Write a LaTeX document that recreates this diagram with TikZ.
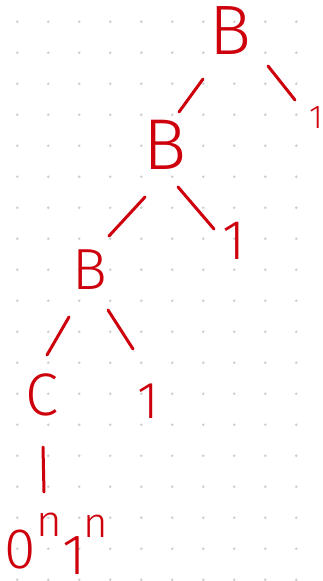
\documentclass[tikz,border=0pt]{standalone}
\usepackage{fontspec}
\setmainfont{Fira Sans}[UprightFont=* Light]
\usetikzlibrary{calc}
\definecolor{ink}{RGB}{206,0,12}
\definecolor{dotc}{RGB}{205,205,205}
\begin{document}
\begin{tikzpicture}[x=1pt,y=-1pt,
  hw/.style={text=ink, inner sep=0pt, outer sep=0pt},
  edge/.style={draw=ink, line width=3pt, line cap=round}]
\useasboundingbox (0,0) rectangle (322,581);
\fill[white] (0,0) rectangle (322,581);
\foreach \i in {0,...,9}{\foreach \j in {0,...,18}{\fill[dotc] ({17.3+31*\i},{21.7+31*\j}) circle[radius=1.4pt];}}
% nodes
\node[hw, font=\fontsize{70}{70}\selectfont] (B1) at (230,31) {B};
\node[hw, font=\fontsize{72}{72}\selectfont] (B2) at (165,145) {B};
\node[hw, font=\fontsize{58}{58}\selectfont] (B3) at (90,270) {B};
\node[hw, font=\fontsize{60}{60}\selectfont] (C) at (42,395) {C};
\node[hw, font=\fontsize{33}{33}\selectfont] (one1) at (316,118) {1};
\node[hw, font=\fontsize{56}{56}\selectfont] (one2) at (234,241) {1};
\node[hw, font=\fontsize{52}{52}\selectfont] (one3) at (148,401) {1};
\node[hw, anchor=base west, font=\fontsize{57}{57}\selectfont] (zn) at (5,568) {0\raisebox{32pt}{\fontsize{44}{44}\selectfont n}};
\node[hw, anchor=base west, font=\fontsize{57}{57}\selectfont] (on) at (62,574) {1\kern-2pt\raisebox{37pt}{\fontsize{42}{42}\selectfont n}};
% connectors
\draw[edge] ($(B1)+(-27,48)$) -- ($(B2)+(14,-33)$);
\draw[edge] ($(B1)+(38,35)$) -- ($(one1)+(-21,-18)$);
\draw[edge] ($(B2)+(-20,52)$) -- ($(B3)+(19,-34)$);
\draw[edge] ($(B2)+(13,42)$) -- ($(one2)+(-20,-12)$);
\draw[edge] ($(B3)+(-21,47)$) -- ($(C)+(5,-40)$);
\draw[edge] ($(B3)+(18,40)$) -- ($(one3)+(-15,-52)$);
\draw[edge] ($(C)+(1,52)$) -- ($(zn.base west)+(39,-76)$);
\end{tikzpicture}
\end{document}
